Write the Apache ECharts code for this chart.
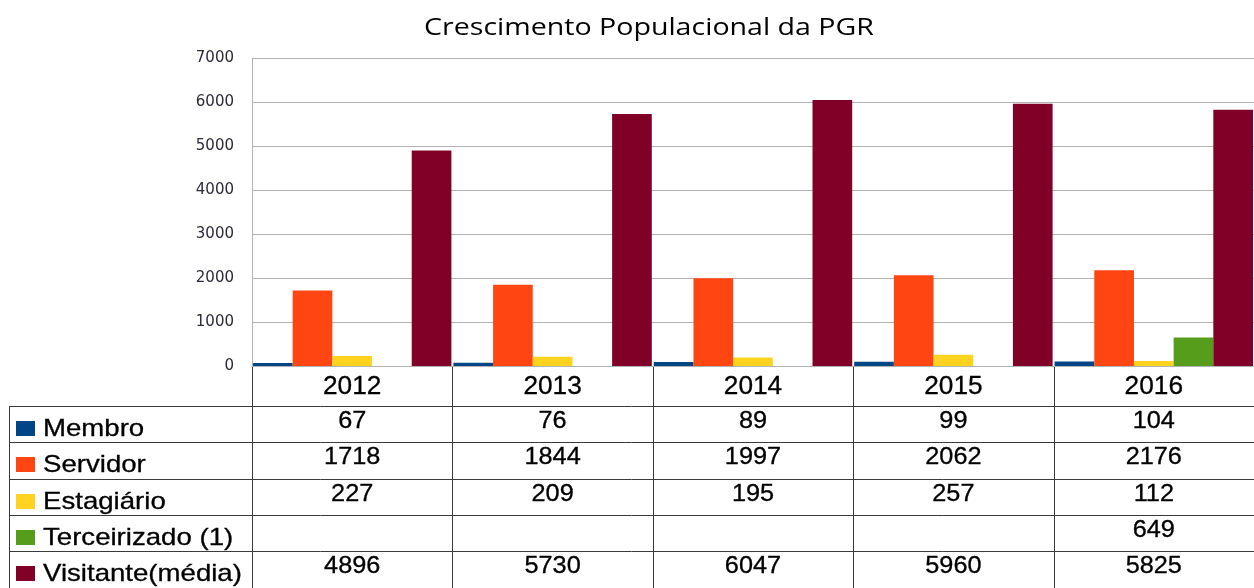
<!DOCTYPE html>
<html>
<head>
<meta charset="utf-8">
<script src="https://cdn.jsdelivr.net/npm/echarts@6/dist/echarts.min.js"></script>
<style>
  html, body { margin: 0; padding: 0; background: #fff; }
  #chart { width: 1254px; height: 588px; }
</style>
</head>
<body>
<div id="chart"></div>
<script>
// data
const years = ['2012', '2013', '2014', '2015', '2016'];
const seriesNames = ['Membro', 'Servidor', 'Estagiário', 'Terceirizado (1)', 'Visitante(média)'];
const membro = [67, 76, 89, 99, 104];
const servidor = [1718, 1844, 1997, 2062, 2176];
const estagiario = [227, 209, 195, 257, 112];
const terceirizado = [null, null, null, null, 649];
const visitante = [4896, 5730, 6047, 5960, 5825];
const colors = ['#004586', '#ff4512', '#ffd320', '#579d1c', '#800028'];
const titleText = 'Crescimento Populacional da PGR';

const allValues = [membro, servidor, estagiario, terceirizado, visitante];

// table layout
const headerTop = 366;
const rowTops = [406, 442, 479, 515, 551];
const tableLeft = 9;
const tableBottom = 588;
const lineColor = '#3a3a3a';
const tableFont = '"Liberation Sans", Arial';

const chart = echarts.init(document.getElementById('chart'));

chart.setOption({
  backgroundColor: '#fff',
  animation: false,
  grid: { left: 252, top: 58, width: 1010, height: 308 },
  xAxis: {
    type: 'category',
    data: years,
    axisLine: { lineStyle: { color: '#b3b3b3' } },
    axisTick: { show: false },
    axisLabel: { show: false }
  },
  yAxis: {
    type: 'value',
    min: 0,
    max: 7000,
    interval: 1000,
    axisLine: { show: true, lineStyle: { color: '#b3b3b3' } },
    axisTick: { show: false },
    axisLabel: {
      color: '#2a2a3a',
      fontFamily: 'DejaVu Sans',
      fontSize: 15,
      margin: 18,
      formatter: (v) => String(v)
    },
    splitLine: { lineStyle: { color: '#b3b3b3' } }
  },
  series: seriesNames.map((name, i) => ({
    name: name,
    type: 'bar',
    data: allValues[i],
    barGap: '0%',
    barCategoryGap: '1%',
    itemStyle: { color: colors[i] }
  }))
});

// data table drawn under the plot
const cx = years.map((y) => chart.convertToPixel({ xAxisIndex: 0 }, y));
const colW = cx[1] - cx[0];
const colEdges = [cx[0] - colW / 2].concat(cx.map((c) => c + colW / 2));

const graphics = [];
// title (source picture is a bit stretched horizontally)
graphics.push({
  type: 'text', x: 649, y: 28, scaleX: 1.19,
  style: { text: titleText, x: 0, y: 0, align: 'center', verticalAlign: 'middle', font: '24px "Open Sans"', fill: '#000' }
});
// horizontal lines
rowTops.forEach((t) => {
  graphics.push({ type: 'line', shape: { x1: tableLeft, y1: t + 0.5, x2: 1254, y2: t + 0.5 }, style: { stroke: lineColor, lineWidth: 1 } });
});
// vertical lines
graphics.push({ type: 'line', shape: { x1: tableLeft + 0.5, y1: rowTops[0], x2: tableLeft + 0.5, y2: tableBottom }, style: { stroke: lineColor, lineWidth: 1 } });
colEdges.forEach((x) => {
  const xx = Math.round(x) + 0.5;
  graphics.push({ type: 'line', shape: { x1: xx, y1: headerTop, x2: xx, y2: tableBottom }, style: { stroke: lineColor, lineWidth: 1 } });
});
// header years
years.forEach((y, j) => {
  graphics.push({
    type: 'text', x: cx[j], y: headerTop + 21, scaleX: 1.05,
    style: { text: y, x: 0, y: 0, align: 'center', verticalAlign: 'middle', font: '25px ' + tableFont, fill: '#000', stroke: '#000', lineWidth: 0.3 }
  });
});
// rows
seriesNames.forEach((name, i) => {
  const t = rowTops[i];
  graphics.push({ type: 'rect', shape: { x: 16, y: t + 15, width: 19, height: 15 }, style: { fill: colors[i] } });
  graphics.push({
    type: 'text', x: 43, y: t + 23, scaleX: 1.15,
    style: { text: name, x: 0, y: 0, align: 'left', verticalAlign: 'middle', font: '24px ' + tableFont, fill: '#000', stroke: '#000', lineWidth: 0.3 }
  });
  allValues[i].forEach((v, j) => {
    if (v === null) return;
    graphics.push({
      type: 'text', x: cx[j], y: t + 16, scaleX: 1.1,
      style: { text: String(v), x: 0, y: 0, align: 'center', verticalAlign: 'middle', font: '23px ' + tableFont, fill: '#000', stroke: '#000', lineWidth: 0.3 }
    });
  });
});

chart.setOption({ graphic: graphics });
</script>
</body>
</html>
